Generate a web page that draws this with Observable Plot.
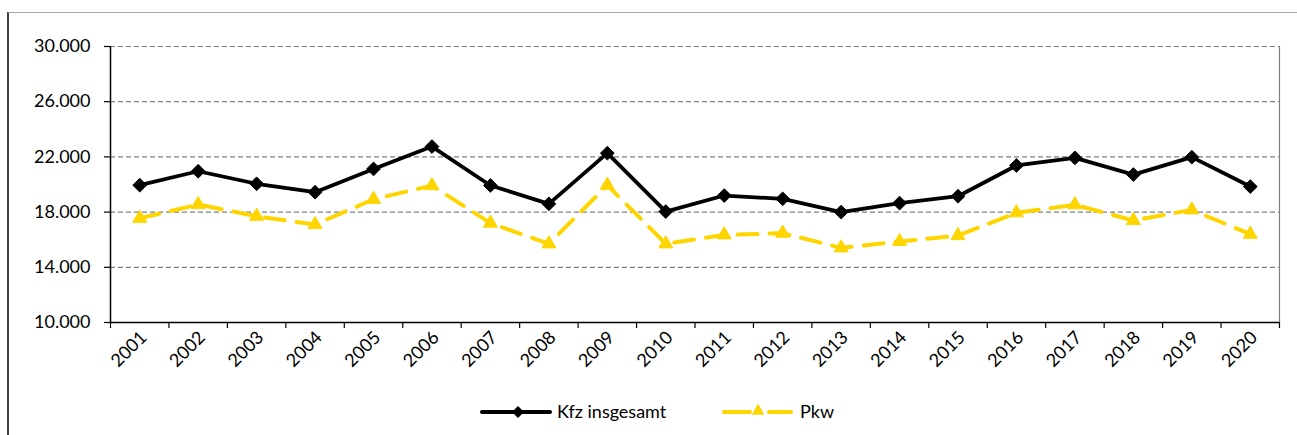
<!DOCTYPE html>
<html>
<head>
<meta charset="utf-8">
<script src="https://cdn.jsdelivr.net/npm/d3@7"></script>
<script src="https://cdn.jsdelivr.net/npm/@observablehq/plot@0.6"></script>
<style>
  html, body { margin: 0; padding: 0; background: #fff; }
  #wrap { position: relative; width: 1297px; height: 435px; overflow: hidden; font-family: Lato, sans-serif; }
  #frame { position: absolute; left: 7px; top: 12px; width: 1400px; height: 600px;
           border-top: 1px solid #a6a6a6; border-left: 2px solid #404040; pointer-events: none; }
  #chart svg, #legend svg { display: block; }
</style>
</head>
<body>
<div id="wrap">
  <div id="chart"></div>
  <div id="legend"></div>
  <div id="frame"></div>
</div>
<script>
const years = [2001,2002,2003,2004,2005,2006,2007,2008,2009,2010,2011,2012,2013,2014,2015,2016,2017,2018,2019,2020];
const kfz = [19950,20960,20050,19440,21130,22750,19930,18600,22270,18040,19200,18960,18000,18650,19150,21380,21930,20720,21980,19850];
const pkw = [17550,18550,17700,17100,18930,19920,17200,15700,19950,15700,16350,16470,15410,15870,16300,17950,18530,17390,18160,16400];
const seriesNames = ["Kfz insgesamt", "Pkw"];
const yTicks = [10000,14000,18000,22000,26000,30000];

const KFZ_COLOR = "#000000";
const PKW_COLOR = "#FFD500";

const rows = years.map((y, i) => ({year: y, kfz: kfz[i], pkw: pkw[i]}));
const boundaries = [...years.map(y => y - 0.5), years[years.length - 1] + 0.5];
const fmt = d3.formatLocale({decimal: ",", thousands: ".", grouping: [3], currency: ["", "€"]}).format(",.0f");

const W = 1297, H = 395;
const chart = Plot.plot({
  width: W,
  height: H,
  marginLeft: 110,
  marginRight: 18,
  marginTop: 46,
  marginBottom: 73,
  style: {fontFamily: "Lato, sans-serif", fontSize: "18px", color: "#000", background: "transparent"},
  x: {type: "linear", domain: [years[0] - 0.5, years[years.length - 1] + 0.5], label: null},
  y: {domain: [10000, 30000], label: null},
  marks: [
    Plot.ruleY(yTicks.filter(t => t > 10000), {stroke: "#7f7f7f", strokeWidth: 1.2, strokeDasharray: "5,3", strokeOpacity: 1}),
    Plot.ruleX([boundaries[boundaries.length - 1]], {stroke: "#7f7f7f", strokeWidth: 1.2}),
    Plot.axisY({ticks: yTicks, tickSize: 6, tickPadding: 14, tickFormat: fmt, fontSize: 18, stroke: "#000", strokeWidth: 1.2, label: null}),
    Plot.axisX({ticks: boundaries, tickSize: 6, tickFormat: () => "", stroke: "#000", strokeWidth: 1.2, label: null}),
    Plot.axisX({ticks: years, tickSize: 0, tickPadding: 12, tickRotate: -45, tickFormat: d => String(d), fontSize: 18, dx: 4, label: null}),
    Plot.ruleX([boundaries[0]], {stroke: "#000", strokeWidth: 1.5}),
    Plot.ruleY([10000], {stroke: "#000", strokeWidth: 1.5}),
    Plot.line(rows, {x: "year", y: "pkw", stroke: PKW_COLOR, strokeWidth: 4, strokeDasharray: "20,12", strokeLinecap: "round"}),
    Plot.dot(rows, {x: "year", y: "pkw", symbol: "triangle", r: 5.2, fill: PKW_COLOR, stroke: PKW_COLOR, strokeWidth: 1}),
    Plot.line(rows, {x: "year", y: "kfz", stroke: KFZ_COLOR, strokeWidth: 3.8}),
    Plot.dot(rows, {x: "year", y: "kfz", symbol: "diamond2", r: 6.2, fill: KFZ_COLOR, stroke: KFZ_COLOR, strokeWidth: 1})
  ]
});
document.getElementById("chart").appendChild(chart);

// Legend below the plot
const lg = d3.select("#legend").append("svg").attr("width", W).attr("height", 40)
  .style("font-family", "Lato, sans-serif").style("font-size", "18px");
const cy = 17;
// Kfz
lg.append("line").attr("x1", 482).attr("x2", 550).attr("y1", cy).attr("y2", cy)
  .attr("stroke", KFZ_COLOR).attr("stroke-width", 4).attr("stroke-linecap", "round");
lg.append("path").attr("d", d3.symbol(d3.symbolDiamond2, 90)()).attr("transform", `translate(518,${cy})`).attr("fill", KFZ_COLOR);
lg.append("text").attr("x", 557).attr("y", cy).attr("dy", "0.35em").text(seriesNames[0]);
// Pkw
lg.append("line").attr("x1", 724).attr("x2", 750).attr("y1", cy).attr("y2", cy)
  .attr("stroke", PKW_COLOR).attr("stroke-width", 4).attr("stroke-linecap", "round");
lg.append("line").attr("x1", 769).attr("x2", 791).attr("y1", cy).attr("y2", cy)
  .attr("stroke", PKW_COLOR).attr("stroke-width", 4).attr("stroke-linecap", "round");
lg.append("path").attr("d", d3.symbol(d3.symbolTriangle, 70)()).attr("transform", `translate(758,${cy - 1})`).attr("fill", PKW_COLOR);
lg.append("text").attr("x", 800).attr("y", cy).attr("dy", "0.35em").text(seriesNames[1]);
</script>
</body>
</html>
